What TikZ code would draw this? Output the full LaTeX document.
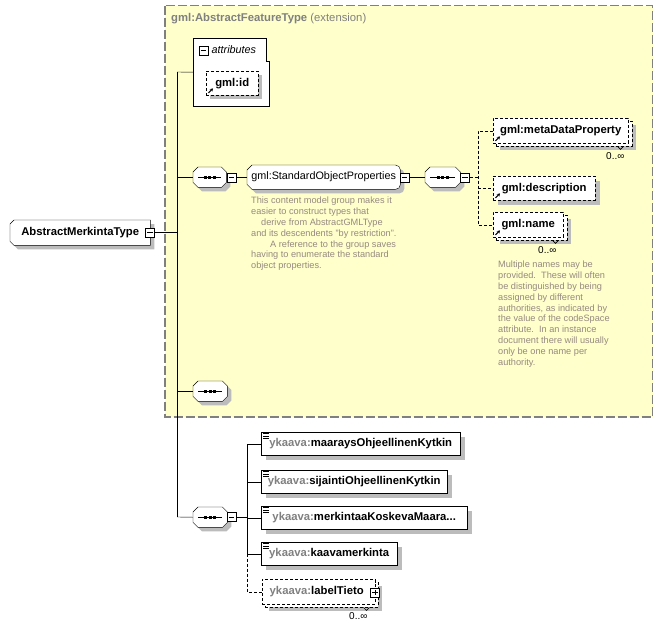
\documentclass[tikz,border=0pt]{standalone}
\usepackage{fontspec}
\setmainfont{Liberation Sans}
\usetikzlibrary{arrows.meta}
\definecolor{yel}{RGB}{255,255,204}
\definecolor{shd}{RGB}{188,188,188}
\definecolor{doc}{RGB}{150,138,128}
\definecolor{brd}{RGB}{128,128,128}
\pgfdeclarelayer{back}
\pgfdeclarelayer{shapes}
\pgfsetlayers{back,shapes,main}
\newcommand\lblfont{\fontsize{11.3}{13}\selectfont\bfseries}
\newcommand\grpfont{\fontsize{10.8}{13}\selectfont}
\newcommand\docfont{\fontsize{9.2}{10.8}\selectfont}
\newcommand\occfont{\fontsize{10}{11}\selectfont}
% #1 node, #2 chamfer, #3 offset
\newcommand\octpath[3]{([xshift=#2+#3,yshift=-#3]#1.north west) -- ([xshift=-#2+#3,yshift=-#3]#1.north east) -- ([xshift=#3,yshift=-#2-#3]#1.north east) -- ([xshift=#3,yshift=#2-#3]#1.south east) -- ([xshift=-#2+#3,yshift=-#3]#1.south east) -- ([xshift=#2+#3,yshift=-#3]#1.south west) -- ([xshift=#3,yshift=#2-#3]#1.south west) -- ([xshift=#3,yshift=-#2-#3]#1.north west) -- cycle}
\newcommand\ctpath[2]{([xshift=4pt+#2,yshift=-#2]#1.north west) -- ([xshift=#2,yshift=-#2]#1.north east) -- ([xshift=#2,yshift=-#2]#1.south east) -- ([xshift=4pt+#2,yshift=-#2]#1.south west) -- ([xshift=#2,yshift=4pt-#2]#1.south west) -- ([xshift=#2,yshift=-4pt-#2]#1.north west) -- cycle}
\newcommand\grppath[2]{([xshift=#2,yshift=-#2]#1.north) [rounded corners=5pt] -- ([xshift=#2,yshift=-#2]#1.north east) -- ([xshift=#2,yshift=-#2]#1.south east) -- ([xshift=#2,yshift=-#2]#1.south) [sharp corners] -- ([xshift=5pt+#2,yshift=-#2]#1.south west) -- ([xshift=#2,yshift=5pt-#2]#1.south west) -- ([xshift=#2,yshift=-5pt-#2]#1.north west) -- ([xshift=5pt+#2,yshift=-#2]#1.north west) -- cycle}
\newcommand\shbox[2]{\fill[shd] ([xshift=#2,yshift=-#2]#1.north west) rectangle ([xshift=#2,yshift=-#2]#1.south east);}
\newcommand\seqdots[1]{%
  \draw[line width=0.8pt] ([xshift=5pt]#1.west) -- ([xshift=-5pt]#1.east);
  \foreach \dx in {-4.5,0,4.5} \fill ([xshift=\dx pt-1.5pt,yshift=-1.5pt]#1.center) rectangle ++(3,-3);}
\newcommand\refarrow[1]{\draw[-{Stealth[length=3pt,width=3.5pt]}, line width=1pt] ([xshift=2.5pt,yshift=2.5pt]#1.south west) -- ++(4.5,-4.5);}
\newcommand\simpleicon[1]{\foreach \k in {0,2.5,5} \draw[line width=0.7pt] ([xshift=2pt,yshift=-(1.5+\k)*1pt]#1.north west) -- ++(6,0);}
\newcommand\notch[1]{\draw[line width=0.7pt] ([xshift=-15pt]#1.south east) -- ++(3,3) -- ++(3,-3);}
\newcommand\yk{\textcolor{brd}{ykaava:}}
\begin{document}
\begin{tikzpicture}[x=1pt,y=-1pt,line width=0.9pt,
  every node/.style={inner sep=0pt},
  box/.style={draw, fill=white, anchor=north west, font=\lblfont},
  opt/.style={dash pattern=on 3pt off 2pt},
  frame/.style={anchor=north west},
  tog/.style={draw, fill=white, minimum width=9pt, minimum height=9pt, line width=0.8pt,
    path picture={\draw[line width=0.8pt] ([xshift=1.8pt]path picture bounding box.west) -- ([xshift=-1.8pt]path picture bounding box.east);}},
  togplus/.style={draw, fill=white, minimum width=9pt, minimum height=9pt, line width=0.8pt,
    path picture={\draw[line width=0.8pt] ([xshift=1.8pt]path picture bounding box.west) -- ([xshift=-1.8pt]path picture bounding box.east);
      \draw[line width=0.8pt] ([yshift=-1.8pt]path picture bounding box.north) -- ([yshift=1.8pt]path picture bounding box.south);}},
  occ/.style={font=\occfont, anchor=west},
  doctext/.style={font=\docfont, text=doc, align=left, anchor=north west},
]
\useasboundingbox (0,0) rectangle (663,629);

% extension region
\begin{pgfonlayer}{back}
  \fill[yel] (165,5.5) rectangle (652.5,417);
  \draw[brd, line width=1.4pt, dash pattern=on 9pt off 3pt] (165,5.5) rectangle (652.5,417);
\end{pgfonlayer}
\node[anchor=west, text=brd, font=\lblfont] (ttl) at (171,19) {gml:AbstractFeatureType \mdseries(extension)};

% frame nodes
\node[frame, minimum width=140pt, minimum height=25pt, font=\lblfont] (amt) at (10,220) {AbstractMerkintaType};
\node[tog] (amtm) at (150,232.5) {};
\node[frame, minimum width=76pt, minimum height=68pt] (attr) at (193,38) {};
\node[frame, minimum width=33pt, minimum height=20pt] (s1) at (193,167) {};
\node[frame, minimum width=153pt, minimum height=24pt, font=\grpfont] (grp) at (247,165) {gml:StandardObjectProperties};
\node[frame, minimum width=35pt, minimum height=20pt] (s2) at (425,167) {};
\node[frame, minimum width=34pt, minimum height=20pt] (s3) at (193,381) {};
\node[frame, minimum width=34pt, minimum height=20pt] (s4) at (193,507) {};

% attributes
\node[tog] (attrm) at (203.5,50.5) {};
\node[anchor=west, font=\grpfont\itshape] (attrl) at (211.5,50) {attributes};
\node[box, opt, minimum width=52pt, minimum height=24pt] (gid) at (206,71) {gml:id};
\refarrow{gid}

% toggles
\node[tog] (s1m) at (231.5,177.5) {};
\node[tog] (grpm) at (404.5,177.5) {};
\node[tog] (s2m) at (465,177.5) {};
\node[tog] (s4m) at (231.5,517) {};

% gml elements
\node[box, opt, minimum width=136pt, minimum height=25pt] (meta2) at (496,121) {};
\node[box, opt, minimum width=135pt, minimum height=25pt] (meta) at (493,118) {gml:metaDataProperty};
\refarrow{meta}\notch{meta2}
\node[box, opt, minimum width=102pt, minimum height=24pt] (desc) at (493,176) {gml:description};
\refarrow{desc}
\node[box, opt, minimum width=71pt, minimum height=25pt] (name2) at (496,215) {};
\node[box, opt, minimum width=70pt, minimum height=25pt] (name) at (493,212) {gml:name};
\refarrow{name}\notch{name2}
\node[occ] (o1) at (606,156) {0..∞};
\node[occ] (o2) at (538,250) {0..∞};

% ykaava elements
\node[box, minimum width=199pt, minimum height=23pt] (e1) at (261,432) {\yk maaraysOhjeellinenKytkin};
\node[box, minimum width=186pt, minimum height=23pt] (e2) at (261,470) {\yk sijaintiOhjeellinenKytkin};
\node[box, minimum width=206pt, minimum height=23pt] (e3) at (261,506) {\yk merkintaaKoskevaMaara...};
\node[box, minimum width=136pt, minimum height=23pt] (e4) at (261,542) {\yk kaavamerkinta};
\simpleicon{e1}\simpleicon{e2}\simpleicon{e3}\simpleicon{e4}
\node[box, opt, minimum width=113pt, minimum height=25pt] (e5b) at (265,582) {};
\node[box, opt, minimum width=113pt, minimum height=25pt] (e5) at (262,579) {};
\node[anchor=west, font=\lblfont] (e5t) at (269.5,591.5) {\yk labelTieto};
\node[togplus] (e5p) at (375,592.5) {};
\notch{e5b}
\node[occ] (o3) at (349,616) {0..∞};

% shapes and shadows
\begin{pgfonlayer}{shapes}
  \fill[shd] \ctpath{amt}{4pt};
  \draw[fill=white] \ctpath{amt}{0pt};
  \draw[fill=white] (193,38) -- (266,38) -- (266,61) -- (269,61) -- (269,106) -- (193,106) -- cycle;
  \fill[shd] \grppath{grp}{4pt};
  \draw[fill=white] \grppath{grp}{0pt};
  \foreach \s in {s1,s2,s3,s4} {
    \fill[shd] \octpath{\s}{5pt}{4pt};
    \draw[fill=white] \octpath{\s}{5pt}{0pt};
  }
  \shbox{gid}{4pt}
  \shbox{meta2}{4pt}
  \shbox{desc}{5pt}
  \shbox{name2}{4pt}
  \shbox{e1}{5pt}\shbox{e2}{5pt}\shbox{e3}{5pt}\shbox{e4}{5pt}
  \shbox{e5b}{4pt}
\end{pgfonlayer}
\seqdots{s1}\seqdots{s2}\seqdots{s3}\seqdots{s4}

% documentation
\node[doctext] (gdoc) at (251,197) {This content model group makes it\\easier to construct types that\\\hspace*{10pt}derive from AbstractGMLType\\and its descendents "by restriction".\\\hspace*{19pt}A reference to the group saves\\having to enumerate the standard\\object properties.};
\node[doctext] (ndoc) at (498,261) {Multiple names may be\\provided.\ \ These will often\\be distinguished by being\\assigned by different\\authorities, as indicated by\\the value of the codeSpace\\attribute.\ \ In an instance\\document there will usually\\only be one name per\\authority.};

% connectors
\coordinate (tTop) at (177,72);
\coordinate (tBot) at (177,517);
\draw (tTop) -- (tBot);
\draw (amtm.east) -- (amtm.east -| tTop);
\draw (tTop) -- (attr.west);
\draw (s1.west -| tTop) -- (s1.west);
\draw (s3.west -| tTop) -- (s3.west);
\draw (tBot) -- (s4.west);
\draw (s1m.east) -- (grp.west |- s1m.east);
\draw (grpm.east) -- (s2.west |- grpm.east);
\coordinate (d) at (478,130);
\draw[opt] (s2m.east) -- (s2m.east -| d);
\draw[opt] (meta.west) -- (meta.west -| d) -- (name.west -| d) -- (name.west);
\draw[opt] (desc.west -| d) -- (desc.west);
\coordinate (e) at (247,443);
\draw (s4m.east) -- (s4m.east -| e);
\draw (e1.west) -- (e1.west -| e) -- (e4.west -| e) -- (e4.west);
\draw (e2.west -| e) -- (e2.west);
\draw (e3.west -| e) -- (e3.west);
\draw[opt] (e4.west -| e) -- (e5.west -| e) -- (e5.west);
\end{tikzpicture}
\end{document}
